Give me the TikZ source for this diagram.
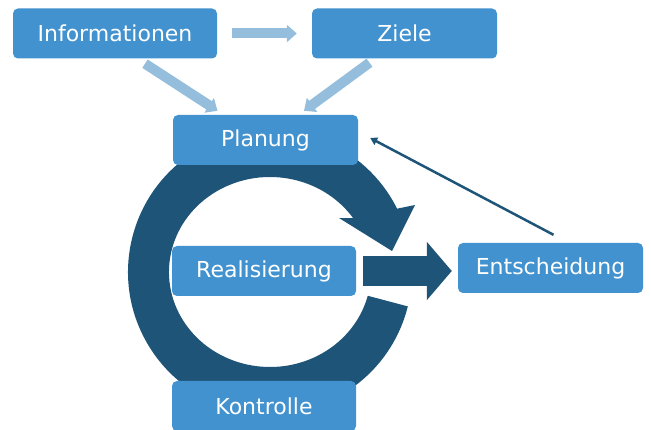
\documentclass[tikz,border=0pt]{standalone}
\usepackage{fontspec}
\setmainfont{DejaVu Sans}
\usetikzlibrary{arrows.meta}
\definecolor{boxblue}{HTML}{4292CF}
\definecolor{ringblue}{HTML}{1F5479}
\definecolor{lightarr}{HTML}{95BEDC}
\begin{document}
\begin{tikzpicture}[x=1pt,y=1pt,
  box/.style={fill=boxblue, rounded corners=5pt, minimum height=50pt, text=white,
    font=\fontsize{22}{26}\selectfont, inner sep=0pt},
  lightarrow/.style={draw=lightarr, line width=10pt, -{Triangle[length=10pt,width=17pt]}},
  bigarrow/.style={draw=ringblue, line width=30pt, -{Triangle[length=25pt,width=57pt]}},
  feedback/.style={draw=ringblue, line width=2.5pt, -{Triangle[length=7pt,width=8pt]}}]
\useasboundingbox (0,0) rectangle (651,430);
% ring arrow
\fill[ringblue] (407.8,123.6)
  arc[start angle=-14, end angle=-333.5, x radius=142, y radius=142]
  -- (415,225) -- (392,179) -- (339,212) -- (353.2,211.8)
  arc[start angle=34.5, end angle=345.5, x radius=101, y radius=95] -- cycle;
% boxes
\node[box, minimum width=204pt] (info) at (115,396.5) {Informationen};
\node[box, minimum width=185pt] (ziele) at (404.5,396.5) {Ziele};
\node[box, minimum width=185pt] (plan) at (265.5,290) {Planung};
\node[box, minimum width=184pt] (real) at (264,159) {Realisierung};
\node[box, minimum width=184pt] (kont) at (264,24) {Kontrolle};
\node[box, minimum width=185pt] (ent) at (550.5,162) {Entscheidung};
% connectors
\draw[lightarrow] ([xshift=15pt]info.east) -- ([xshift=-15pt]ziele.west);
\draw[lightarrow] ([xshift=30pt,yshift=-5pt]info.south) -- ([xshift=-48pt,yshift=4pt]plan.north);
\draw[lightarrow] ([xshift=-35pt,yshift=-4pt]ziele.south) -- ([xshift=38.5pt,yshift=4pt]plan.north);
\draw[feedback] ([xshift=3pt,yshift=8pt]ent.north) -- ([xshift=12pt,yshift=2pt]plan.east);
\draw[bigarrow] ([xshift=7pt]real.east) -- ([xshift=-6pt]real.east -| ent.west);
\end{tikzpicture}
\end{document}
